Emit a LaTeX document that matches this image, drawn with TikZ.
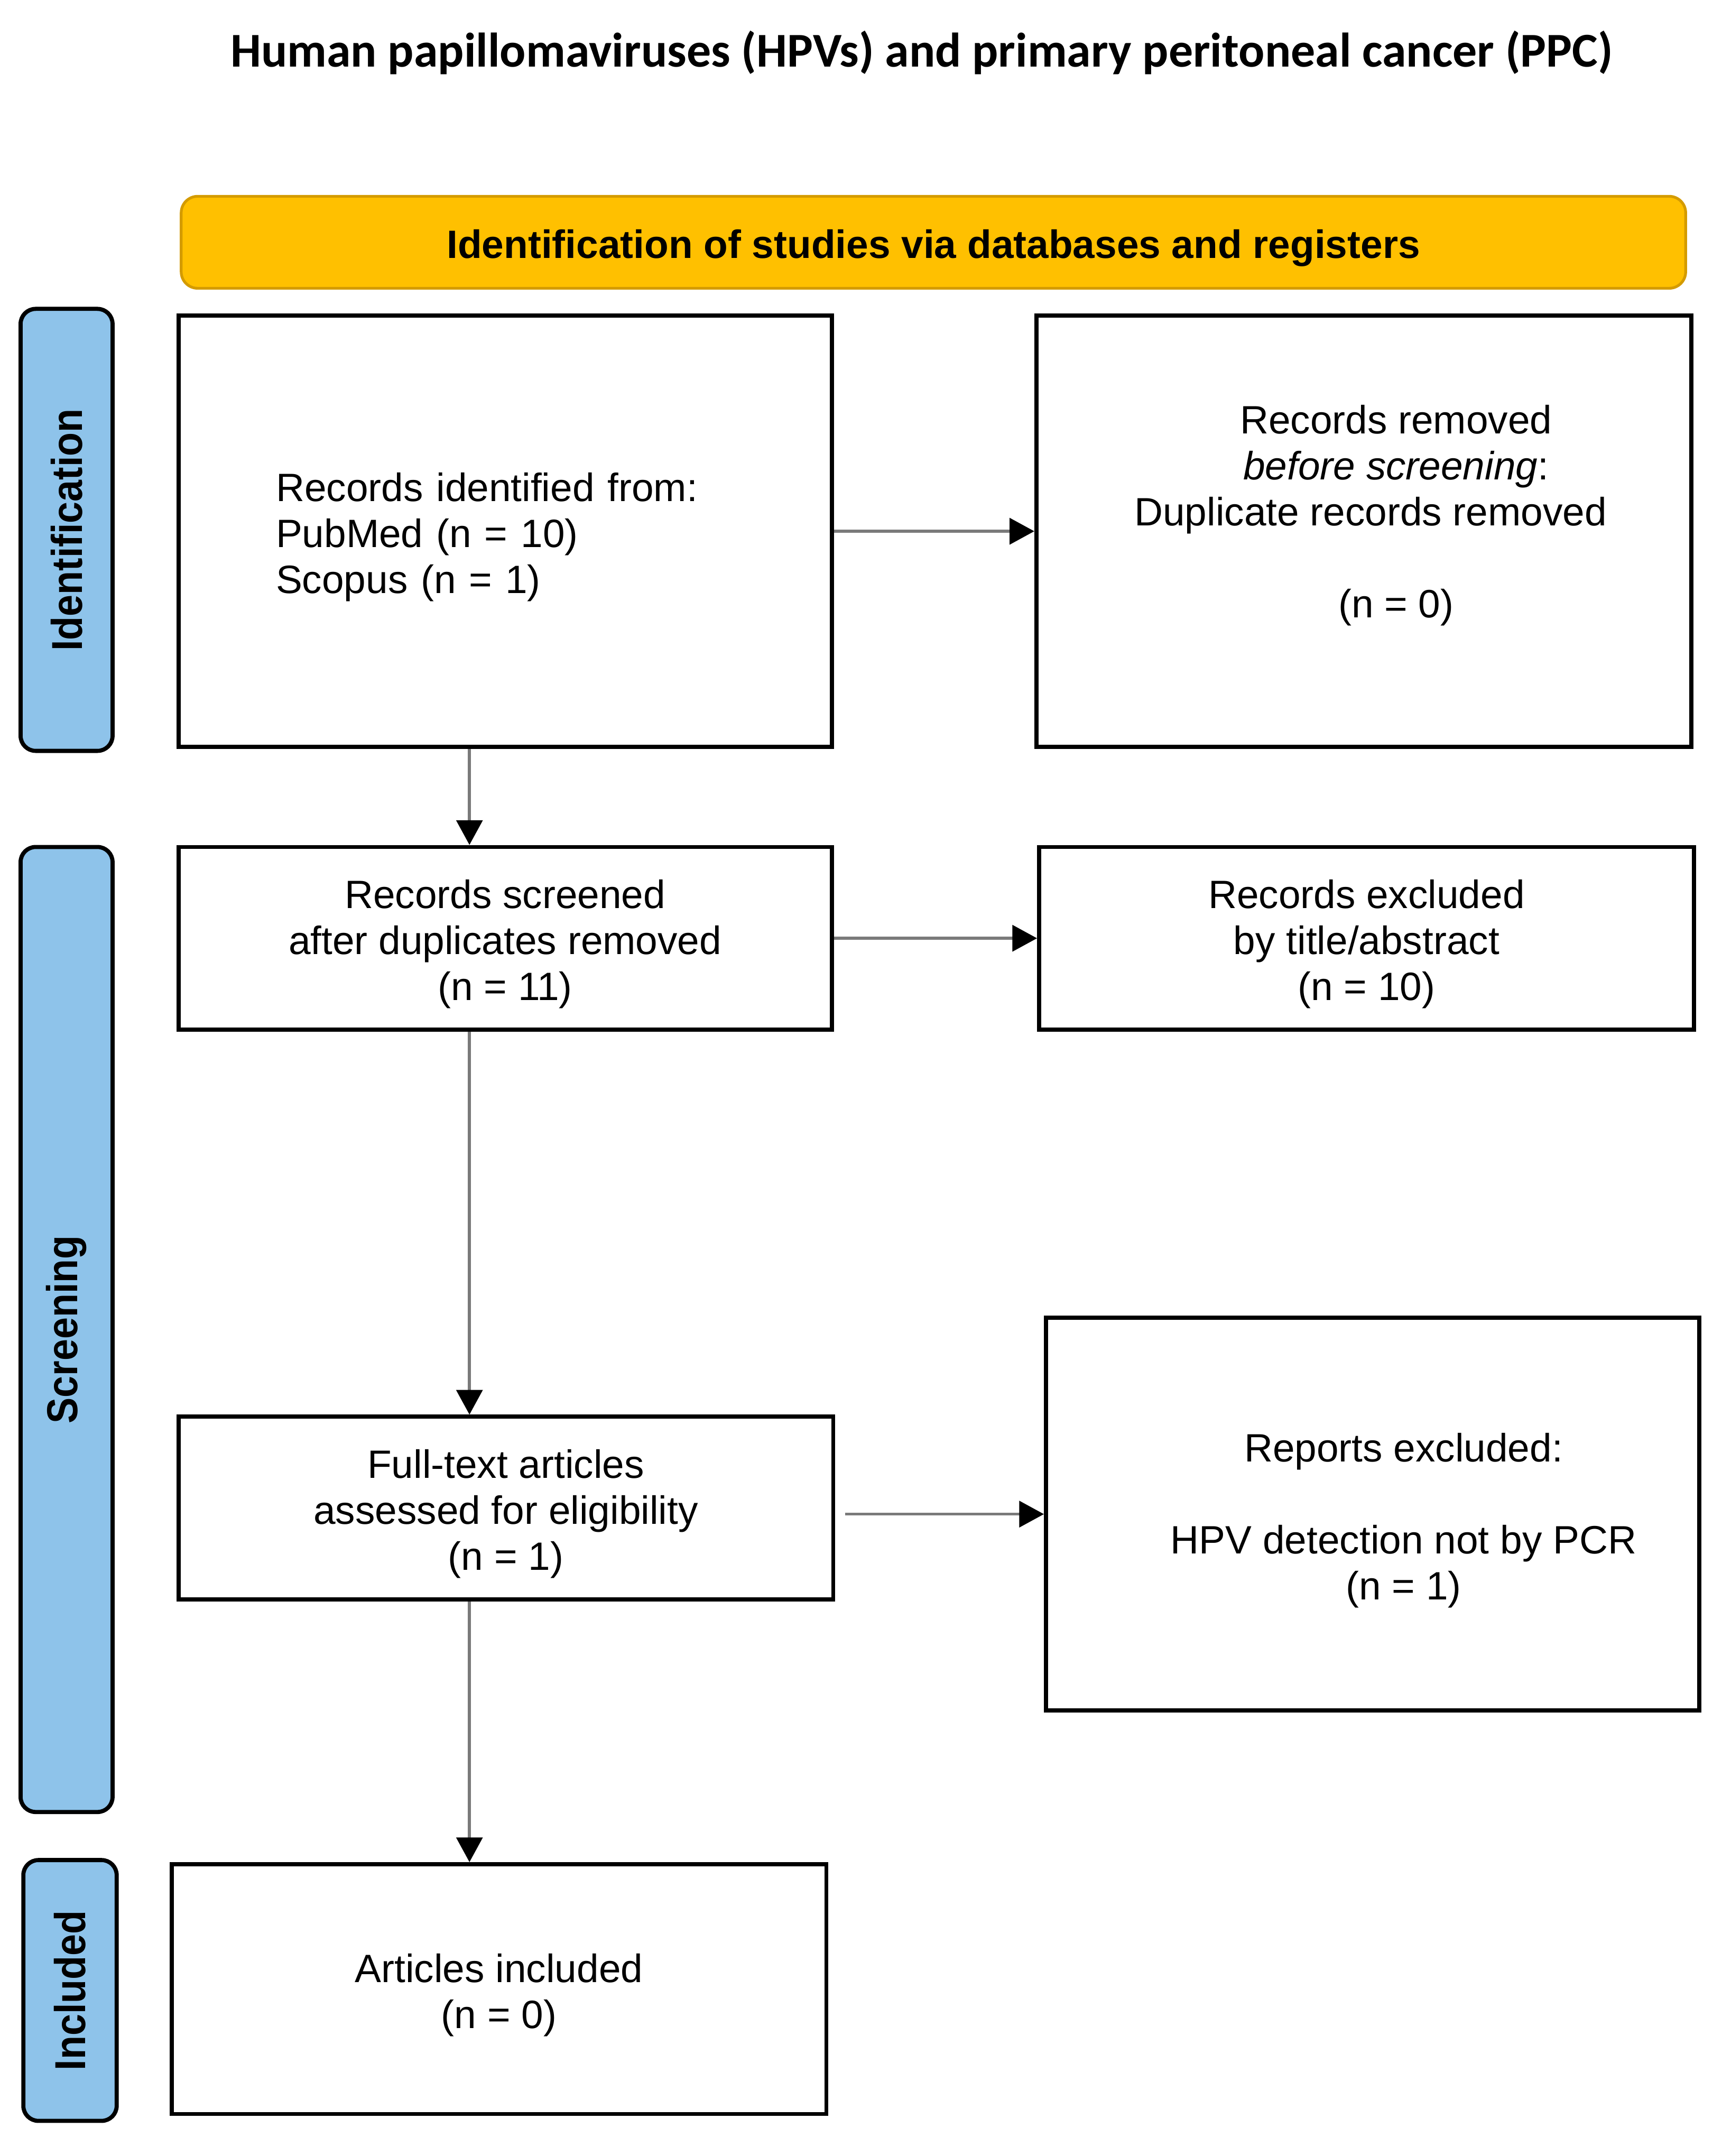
\documentclass[tikz,border=0pt]{standalone}
\usepackage{graphicx}
\usepackage{fontspec}
\setmainfont{Liberation Sans}
\newfontfamily\titlefont{Carlito}
\usetikzlibrary{arrows.meta,calc}
\definecolor{bannerfill}{HTML}{FFC000}
\definecolor{bannerdraw}{HTML}{D49B00}
\definecolor{labelfill}{HTML}{8EC3EA}
\definecolor{arrowgray}{HTML}{7A7A7A}
\newcommand{\topstrut}{\rule{0pt}{29.5pt}}
\begin{document}
\begin{tikzpicture}[x=1pt,y=1pt,
  box/.style={draw=black, line width=3pt, fill=white, inner sep=0pt, align=center,
    font=\fontsize{28.8}{33.5}\selectfont},
  boxtext/.style={inner sep=0pt, align=center, font=\fontsize{28.8}{33.5}\selectfont},
  phase/.style={draw=black, line width=3pt, fill=labelfill, rounded corners=11pt,
    inner sep=0pt, rotate=90, font=\bfseries\fontsize{31.5}{36}\selectfont},
  arr/.style={draw=arrowgray, line width=2.2pt,
    -{Triangle[length=18pt,width=19pt,color=black]}},
]
\useasboundingbox (0,0) rectangle (1254.1,-1570.6);
\fill[white] (0,0) rectangle (1254.1,-1570.6);

% title
\node[font=\titlefont\bfseries\fontsize{35.4}{40}\selectfont, inner sep=0pt] (title) at (671.5,-38.5)
  {Human papillomaviruses (HPVs) and primary peritoneal cancer (PPC)};

% banner
\node[draw=bannerdraw, fill=bannerfill, line width=2pt, rounded corners=12pt,
  minimum width=1096pt, minimum height=67pt, inner sep=0pt,
  font=\bfseries\fontsize{28.8}{33}\selectfont] (banner) at (680,-176.5)
  {\topstrut Identification of studies via databases and registers};

% phase labels
\node[phase, minimum width=322pt, minimum height=67pt] (pid) at (48.5,-386)
  {\scalebox{0.9}[1]{Identification}};
\node[phase, minimum width=703pt, minimum height=67pt] (pscr) at (48.5,-968.5)
  {\scalebox{0.9}[1]{Screening}};
\node[phase, minimum width=190pt, minimum height=68pt] (pinc) at (51,-1450)
  {\scalebox{0.9}[1]{Included}};

% boxes
\node[box, minimum width=476pt, minimum height=314pt, text width=334pt, align=left] (b1) at (368,-387)
  {\topstrut Records identified from:\\PubMed (n = 10)\\Scopus (n = 1)};
\node[box, minimum width=477pt, minimum height=314pt] (b2) at (993.5,-387) {};
\node[boxtext] (b2t) at (1017,-375.5)
  {Records removed\\\textit{before screening}:\\Duplicate records removed\hbox to 37pt{\hss}\\\mbox{}\\(n = 0)};

\node[box, minimum width=476pt, minimum height=133pt] (b3) at (368,-683.5)
  {\topstrut Records screened\\after duplicates removed\\(n = 11)};
\node[box, minimum width=477pt, minimum height=133pt] (b4) at (995.5,-683.5)
  {\topstrut Records excluded\\by title/abstract\\(n = 10)};

\node[box, minimum width=477pt, minimum height=133pt] (b5) at (368.5,-1098.5)
  {\topstrut Full-text articles\\assessed for eligibility\\(n = 1)};
\node[box, minimum width=476pt, minimum height=286pt] (b6) at (1000,-1103) {};
\node[boxtext] (b6t) at (1022.5,-1107.5)
  {Reports excluded:\\\mbox{}\\HPV detection not by PCR\\(n = 1)};

\node[box, minimum width=477pt, minimum height=182pt] (b7) at (363.5,-1449)
  {\topstrut Articles included\\(n = 0)};

% connectors
\coordinate (xl) at (342,0);
\draw[arr] (b1.east) -- (b2.west);
\draw[arr] (b1.south -| xl) -- (b3.north -| xl);
\draw[arr] (b3.east) -- (b4.west);
\draw[arr] (b3.south -| xl) -- (b5.north -| xl);
\draw[arr] ([xshift=7pt]b5.east |- b6.west) -- (b6.west);
\draw[arr] (b5.south -| xl) -- (b7.north -| xl);
\end{tikzpicture}
\end{document}
